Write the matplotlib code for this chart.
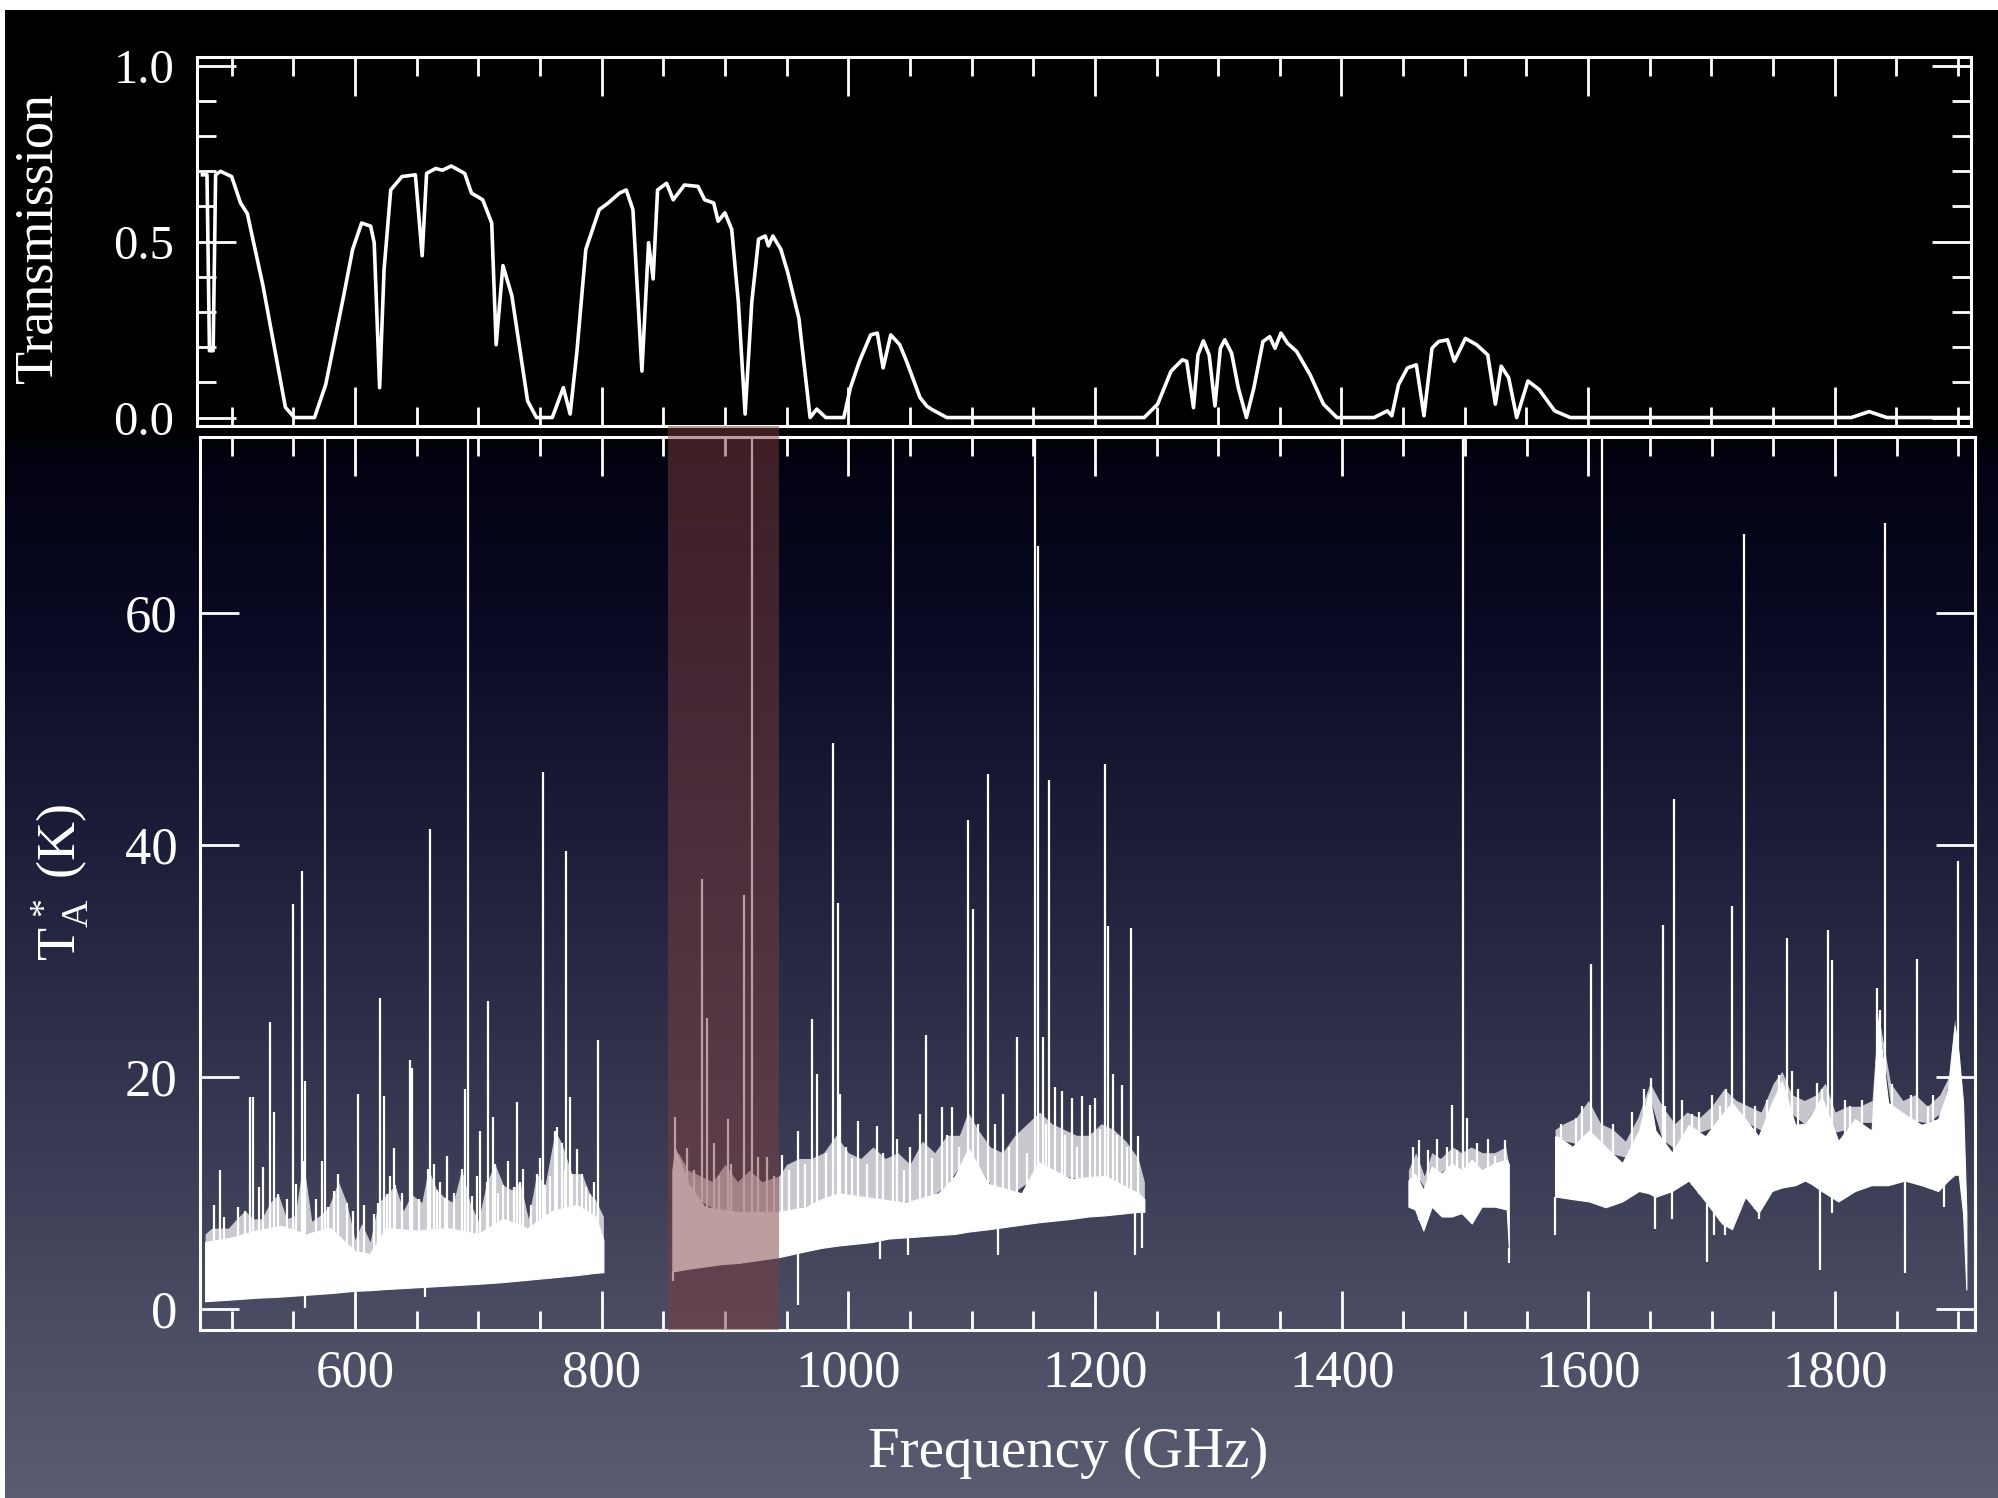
import numpy as np
import matplotlib
matplotlib.use('Agg')
import matplotlib.pyplot as plt
from matplotlib.colors import LinearSegmentedColormap
from matplotlib.patches import Rectangle
from matplotlib.ticker import MultipleLocator

# atmospheric transmission (top panel), GHz / fraction
trans_freq = [476.3, 480, 482, 485, 487, 490.9, 500, 507.2, 512.7, 525.4, 543.6, 550.9, 567.2,
              576.3, 590.9, 598.1, 605.4, 612.7, 615.6, 620, 623.6, 629, 638.1, 649, 654.5,
              658.1, 665.4, 670.9, 678.1, 689, 694.5, 703.6, 710.9, 714.5, 720, 727.2, 740,
              747.2, 760, 769, 774.5, 780, 787.2, 798.1, 805.4, 814.5, 820, 825.4, 832.7,
              838.1, 841.8, 845.4, 852.7, 858.1, 867.2, 878.2, 883.6, 890.9, 894.5, 900,
              905.5, 910.9, 916.4, 921.8, 927.3, 932.7, 935.3, 938.9, 945.4, 950.9, 960,
              969.1, 974.5, 981.8, 996.4, 1001.8, 1009.1, 1018.2, 1023.6, 1028.3, 1034.5,
              1041.8, 1047.3, 1058.2, 1063.6, 1067.3, 1080, 1240, 1250.9, 1261.8, 1270.9,
              1274.5, 1280, 1283.6, 1288, 1292.7, 1297.4, 1301.8, 1305.4, 1310.9, 1316.3,
              1322.9, 1329, 1336.3, 1341.8, 1346.1, 1350.9, 1356.3, 1363.6, 1374.5, 1385.4,
              1396.3, 1426.4, 1437.2, 1440.8, 1446.3, 1453.5, 1460.7, 1466.9, 1473.4, 1478.8,
              1486, 1491.5, 1500.5, 1509.6, 1518.6, 1524.8, 1529.5, 1535.6, 1542.1, 1551.2,
              1560.2, 1572.9, 1585.5, 1813.4, 1827.9, 1842.3, 1911]
trans_val = [0.69, 0.69, 0.19, 0.19, 0.69, 0.70, 0.685, 0.61, 0.58, 0.375, 0.029, 0.0, 0.0,
             0.094, 0.347, 0.478, 0.553, 0.544, 0.497, 0.085, 0.42, 0.647, 0.685, 0.69, 0.46,
             0.694, 0.708, 0.703, 0.715, 0.694, 0.638, 0.619, 0.553, 0.207, 0.432, 0.347, 0.047,
             0.0, 0.0, 0.085, 0.01, 0.188, 0.478, 0.591, 0.61, 0.638, 0.647, 0.591, 0.132,
             0.497, 0.394, 0.647, 0.666, 0.619, 0.661, 0.657, 0.619, 0.61, 0.558, 0.582,
             0.535, 0.328, 0.01, 0.328, 0.507, 0.516, 0.488, 0.516, 0.478, 0.413, 0.282,
             0.0, 0.024, 0.0, 0.0, 0.085, 0.16, 0.235, 0.24, 0.141, 0.235,
             0.207, 0.16, 0.057, 0.033, 0.024, 0.0, 0.0, 0.038, 0.132, 0.164,
             0.16, 0.028, 0.178, 0.218, 0.178, 0.033, 0.197, 0.221, 0.183, 0.085,
             0.0, 0.085, 0.216, 0.23, 0.197, 0.24, 0.211, 0.188, 0.122, 0.038,
             0.0, 0.0, 0.019, 0.005, 0.094, 0.141, 0.15, 0.005, 0.197, 0.216,
             0.221, 0.16, 0.225, 0.207, 0.178, 0.038, 0.146, 0.113, 0.0, 0.104,
             0.08, 0.019, 0.0, 0.0, 0.017, 0.0, 0.0]

# spectrum (bottom panel), per band:
# floor / top of the solid part, top of the dense grass, single lines, dips
b1_freq = [478.4, 500, 520, 540, 560, 580, 600, 612, 625, 650, 675, 700, 720, 740, 760, 780, 795, 801.4]
b1_low = [0.7, 0.85, 1.0, 1.1, 1.25, 1.4, 1.6, 1.65, 1.75, 1.9, 2.05, 2.2, 2.35, 2.55, 2.75, 2.95, 3.15, 3.2]
b1_top = [5.8, 6.2, 6.8, 7.2, 6.5, 7.0, 5.0, 4.8, 7.0, 6.8, 7.0, 6.5, 7.8, 7.0, 8.5, 9.0, 8.0, 6.0]
b1_env_f = [478.4, 483.8, 497.3, 504.1, 510.8, 517.6, 524.3, 531.1, 537.8, 544.6, 551.4, 558.1,
            564.9, 571.6, 578.4, 586.5, 593.2, 600, 605.4, 612.2, 618.9, 625.7, 632.4, 639.2,
            645.9, 654.1, 659.5, 666.2, 673, 679.7, 686.5, 693.2, 700, 706.8, 713.5, 720.3,
            727, 733.8, 740.5, 747.3, 754.1, 762.2, 767.6, 775.7, 783.8, 790.5, 794.6, 801.4]
b1_env = [6.5, 7.0, 7.0, 7.8, 8.5, 7.8, 7.8, 9.2, 9.9, 7.8, 8.1, 12.8,
          7.6, 8.1, 8.8, 11.0, 9.2, 6.0, 7.4, 5.8, 9.2, 9.9, 10.7, 8.5,
          9.9, 9.2, 12.1, 10.3, 9.6, 9.2, 12.1, 9.2, 7.6, 11.0, 12.5, 10.7,
          10.3, 11.0, 7.8, 11.7, 10.7, 15.4, 14.3, 11.7, 11.7, 9.9, 9.5, 8.0]
b1_line_f = [490.5, 514.9, 517.6, 525.7, 531.1, 534.3, 550.0, 556.8, 559.5, 573.0, 575.7, 586.5,
             602.2, 620.3, 623.8, 631.6, 644.6, 646.5, 660.8, 674.3, 689.2, 691.4, 701.4, 708.1,
             712.2, 731.1, 736.5, 752.2, 763.5, 771.1, 774.3, 797.3,
             486, 494, 505, 510.8, 522, 537.8, 545, 552, 558.1, 568, 578.4, 583, 593.2, 598, 607,
             615, 618.9, 625.7, 628, 632.4, 638, 645.9, 652, 659.5, 664, 666.2, 669, 673, 680,
             686.5, 695, 699, 706.8, 713.5, 716, 720.3, 724, 729, 733.8, 743, 747.3, 750, 754.1,
             758, 762.2, 767.6, 770, 775.7, 780, 783.8, 787, 790.5, 794]
b1_line_h = [12.0, 18.3, 18.3, 12.3, 24.8, 17.0, 34.9, 37.8, 19.7, 12.8, 80, 11.7,
             18.6, 26.8, 18.4, 13.9, 21.5, 20.8, 41.4, 13.2, 19.0, 80, 15.4, 26.6,
             16.6, 17.9, 12.1, 46.3, 15.7, 39.5, 18.3, 23.2,
             9.0, 8.0, 8.8, 8.5, 10.5, 9.9, 9.5, 10.8, 12.8, 9.5, 8.8, 10.2, 9.2, 8.5, 9.0,
             8.2, 9.2, 9.9, 11.5, 10.7, 10.0, 9.9, 9.5, 12.1, 12.5, 10.3, 11.0, 9.6, 10.0,
             12.1, 9.8, 11.5, 11.0, 12.5, 10.0, 10.7, 12.8, 10.5, 11.0, 9.0, 11.7, 13.0, 10.7,
             11.5, 15.4, 14.3, 12.0, 11.7, 13.8, 11.7, 10.5, 9.9, 11.0]
b1_dip_f = [559.5, 656.8]
b1_dip_v = [0.1, 1.1]

b2_freq = [857.3, 859.5, 870.3, 883.8, 897.3, 910.8, 943.8, 964.9, 978.4, 991.9, 1018.9, 1032.4,
           1045.9, 1073, 1086.5, 1097.3, 1113.5, 1140.5, 1154, 1181, 1194.6, 1208.1, 1235.1, 1240]
b2_low = [3.3, 3.3, 3.5, 3.7, 3.9, 4.0, 4.5, 5.0, 5.3, 5.5, 5.8, 6.1,
          6.2, 6.4, 6.5, 6.7, 6.9, 7.3, 7.5, 7.8, 8.0, 8.1, 8.4, 8.4]
b2_top = [12.0, 13.9, 10.8, 8.8, 8.6, 8.4, 8.4, 8.8, 9.5, 10.0, 9.6, 9.4,
          9.2, 10.0, 11.5, 13.9, 10.8, 10.0, 12.7, 11.2, 11.4, 11.5, 10.0, 9.5]
b2_env_f = [857.3, 862, 870, 880, 890, 900, 910, 920, 930, 943.8, 950, 960, 970, 980, 990,
            1000, 1010, 1020, 1030, 1040, 1050, 1060, 1070, 1080, 1090, 1097, 1105, 1115,
            1125, 1135, 1145, 1155, 1165, 1175, 1185, 1195, 1205, 1215, 1225, 1235, 1240]
b2_env = [12.0, 13.5, 12.0, 11.5, 11.0, 12.5, 11.0, 12.0, 11.0, 11.5, 12.5, 13.0, 13.0, 13.5, 15.0,
          13.5, 13.0, 14.0, 13.0, 13.5, 12.5, 14.5, 13.5, 15.0, 15.0, 17.0, 15.5, 14.0,
          13.5, 15.0, 16.0, 17.0, 16.0, 15.5, 15.0, 15.0, 16.0, 15.5, 14.5, 13.0, 11.0]
b2_line_f = [859.5, 868.9, 881.1, 885.1, 891.4, 902.7, 915.7, 922.2, 927, 933.8, 945.9, 959.5,
             970.3, 974.3, 987.8, 991.4, 993.2, 1008.1, 1023, 1036.5, 1039.2, 1058.1, 1062.7,
             1075.7, 1083.8, 1096.8, 1101.4, 1113, 1118.9, 1125.7, 1136.5, 1151.4, 1153.6,
             1158.1, 1163, 1167.6, 1173, 1181.1, 1189.2, 1195.9, 1200, 1208.1, 1210.8, 1214.9,
             1221.6, 1229.2, 1235.1,
             875, 895, 905, 940, 952, 965, 982, 998, 1003, 1015, 1028, 1045, 1050, 1068, 1080,
             1090, 1105, 1130, 1145, 1160, 1176, 1185, 1204, 1218, 1226]
b2_line_h = [16.6, 13.9, 37.1, 25.1, 14.3, 16.4, 35.7, 80, 13.1, 13.1, 13.3, 15.4,
             25.0, 20.3, 48.8, 35.0, 18.6, 16.2, 15.8, 80, 14.7, 16.8, 23.6,
             17.4, 17.4, 42.2, 34.5, 46.1, 16.0, 18.6, 23.5, 80, 65.8,
             23.5, 45.6, 19.2, 18.8, 18.2, 18.4, 17.6, 18.2, 47.0, 33.0, 20.3,
             19.3, 32.9, 14.9,
             12.0, 11.5, 12.5, 11.5, 12.0, 12.5, 13.5, 14.0, 13.0, 12.5, 13.5, 12.0, 14.0, 13.0, 15.0,
             14.0, 16.0, 14.0, 13.5, 16.0, 15.0, 14.0, 15.5, 15.0, 14.0]
b2_dip_f = [858.1, 959.5, 1025.7, 1048.6, 1121.6, 1232.4, 1237.8]
b2_dip_v = [2.4, 0.4, 4.3, 4.7, 4.7, 4.7, 5.3]

b3_freq = [1454.1, 1459.5, 1466.2, 1473, 1481.1, 1489.2, 1497.3, 1505.4, 1513.5, 1524.3, 1533.8, 1535.5]
b3_low = [8.85, 8.6, 6.8, 8.85, 8.0, 8.0, 8.3, 7.4, 8.85, 8.85, 8.6, 5.3]
b3_top = [11.1, 11.7, 10.3, 12.3, 11.7, 12.6, 12.0, 12.9, 12.0, 12.6, 12.9, 12.5]
b3_env_f = [1454.1, 1460, 1467, 1473, 1480, 1490, 1497, 1505, 1514, 1524, 1533, 1535.5]
b3_env = [12.0, 13.5, 11.5, 13.5, 13.0, 14.0, 13.5, 14.0, 13.5, 13.5, 14.0, 12.5]
b3_line_f = [1458.1, 1462.7, 1470.3, 1477, 1485.1, 1489.7, 1493.2, 1498.6, 1501.4, 1509.5, 1518.4, 1524.3, 1532.4]
b3_line_h = [14.0, 14.6, 13.7, 14.7, 14.0, 17.6, 13.7, 80, 16.5, 14.3, 14.7, 13.2, 14.6]
b3_dip_f = [1535.5]
b3_dip_v = [4.0]

b4_freq = [1573, 1574.9, 1587.1, 1600.5, 1614, 1627.5, 1641, 1649.1, 1654.4, 1667.9, 1681.4, 1694.9,
           1708.4, 1716.4, 1727.2, 1738, 1748.8, 1756.9, 1767.7, 1775.7, 1781.1, 1789.2, 1802.7,
           1816.2, 1829.6, 1835, 1843.1, 1856.6, 1870.1, 1883.6, 1891.6, 1897, 1900.3, 1903.8, 1906.5]
b4_low = [9.7, 9.7, 9.5, 9.3, 8.8, 9.3, 10.2, 10.0, 9.7, 10.2, 11.1, 9.3,
          7.4, 6.9, 9.7, 8.3, 10.2, 10.5, 10.7, 11.1, 10.8, 10.2, 9.3,
          10.2, 10.7, 10.7, 10.7, 11.1, 10.7, 10.2, 11.1, 11.6, 11.6, 8.3, 1.7]
b4_top = [14.9, 14.9, 14.0, 15.4, 14.0, 12.6, 15.4, 18.7, 15.4, 13.5, 15.9, 14.9,
          16.8, 17.8, 16.4, 14.9, 17.8, 19.7, 15.9, 16.0, 16.8, 18.3, 14.5,
          16.4, 15.4, 24.9, 17.8, 16.8, 15.9, 16.4, 19.0, 24.4, 22.0, 17.8, 8.3]
b4_env_f = [1573, 1580, 1590, 1600, 1610, 1620, 1630, 1640, 1650, 1660, 1670, 1680, 1690, 1700,
            1710, 1720, 1730, 1740, 1750, 1757, 1765, 1775, 1785, 1792, 1800, 1810, 1820, 1830,
            1835, 1845, 1855, 1865, 1875, 1885, 1892, 1897, 1903, 1906.5]
b4_env = [15.5, 16.0, 16.5, 18.0, 16.0, 15.5, 14.5, 16.5, 19.5, 17.5, 16.0, 17.0, 16.5, 17.5,
          19.0, 18.0, 17.5, 17.0, 19.5, 20.5, 18.5, 18.0, 18.5, 19.5, 17.0, 17.5, 17.5, 18.0,
          25.5, 19.5, 18.0, 18.5, 17.5, 18.5, 20.0, 25.0, 19.0, 9.0]
b4_line_f = [1601.9, 1611.3, 1650.4, 1660.4, 1669.3, 1684.1, 1707, 1716.4, 1725.9, 1754.2, 1760.9,
             1789.2, 1794.1, 1797.3, 1833.7, 1836.4, 1840.4, 1845.8, 1866.8, 1879.5, 1899.7,
             1578, 1590, 1595, 1620, 1635, 1645, 1662, 1676, 1690, 1700, 1712, 1735, 1745, 1765,
             1770, 1785, 1808, 1812, 1822, 1850, 1862, 1875, 1888, 1893]
b4_line_h = [29.8, 80, 19.9, 33.1, 44.0, 16.8, 17.5, 34.8, 66.8, 20.2, 32.0,
             19.0, 32.7, 30.1, 27.7, 25.8, 67.8, 19.4, 30.2, 18.5, 38.6,
             16.0, 16.5, 17.5, 16.0, 17.0, 19.0, 17.5, 18.0, 17.0, 18.5, 19.0, 17.5, 18.0, 20.5,
             19.0, 19.5, 18.0, 17.5, 18.0, 17.0, 18.5, 17.5, 17.0, 19.5]
b4_dip_f = [1573, 1654.4, 1667.9, 1696.2, 1701.6, 1711.1, 1738, 1787.9, 1797.3, 1856.6, 1888.4]
b4_dip_v = [6.4, 6.9, 7.8, 4.1, 6.4, 6.4, 7.8, 3.4, 8.3, 3.1, 8.8]

# highlighted frequency window
band_lo, band_hi = 854, 943.5

W, H = 1999, 1498


def style_axes(ax):
    for sp in ax.spines.values():
        sp.set_color('white')
        sp.set_linewidth(2.2)
    ax.set_facecolor('none')
    ax.tick_params(which='both', direction='in', colors='white', top=True, right=True, width=2)
    ax.tick_params(which='major', length=28)
    ax.tick_params(which='minor', length=14)


def draw_band(ax, freq, low, top, env_f, env, line_f, line_h, dip_f, dip_v):
    # dense forest of weak lines, drawn as a mostly opaque layer
    ax.fill_between(env_f, np.interp(env_f, freq, top), env, color='white', alpha=0.72,
                    lw=0, zorder=2)
    ax.fill_between(freq, low, top, color='white', lw=0.8, zorder=3)
    base = np.interp(line_f, freq, low)
    ax.vlines(line_f, base, line_h, color='white', lw=1.6, zorder=3)
    dbase = np.interp(dip_f, freq, low)
    ax.vlines(dip_f, dip_v, dbase, color='white', lw=1.6, zorder=3)


def main():
    plt.rcParams['font.family'] = ['Liberation Serif', 'DejaVu Serif']
    plt.rcParams['mathtext.fontset'] = 'custom'
    plt.rcParams['mathtext.rm'] = 'Liberation Serif'
    plt.rcParams['mathtext.it'] = 'Liberation Serif:italic'

    fig = plt.figure(figsize=(W / 100, H / 100), dpi=100, facecolor='white')

    # gradient backdrop: black behind the top panel, navy to slate below
    bg = fig.add_axes([5 / W, 0, 1 - 5 / W, 1 - 10 / H], zorder=-10)
    cmap = LinearSegmentedColormap.from_list('bg', [
        (0.0, '#000000'), (0.28, '#000000'), (0.30, '#020211'), (0.42, '#0a0b25'),
        (0.6, '#22243f'), (0.77, '#3a3c55'), (0.94, '#52556a'), (1.0, '#5a5d71')])
    bg.imshow(np.linspace(0, 1, 800).reshape(-1, 1), aspect='auto', cmap=cmap,
              extent=[0, 1, 0, 1], origin='upper')
    bg.axis('off')

    # top panel
    ax1 = fig.add_axes([196.5 / W, 1 - 426 / H, (1971 - 196.5) / W, (426 - 57.3) / H])
    style_axes(ax1)
    ax1.plot(trans_freq, trans_val, color='white', lw=2.6, solid_joinstyle='round', zorder=3)
    ax1.set_xlim(471.5, 1910.5)
    ax1.set_ylim(-0.024, 1.024)
    ax1.xaxis.set_major_locator(MultipleLocator(200))
    ax1.xaxis.set_minor_locator(MultipleLocator(50))
    ax1.yaxis.set_major_locator(MultipleLocator(0.5))
    ax1.yaxis.set_minor_locator(MultipleLocator(0.1))
    ax1.tick_params(axis='x', labelbottom=False)
    ax1.tick_params(axis='y', labelsize=35, pad=16)

    # bottom panel
    ax2 = fig.add_axes([200 / W, 1 - 1330 / H, 1775 / W, (1330 - 436.7) / H])
    style_axes(ax2)
    draw_band(ax2, b1_freq, b1_low, b1_top, b1_env_f, b1_env, b1_line_f, b1_line_h, b1_dip_f, b1_dip_v)
    draw_band(ax2, b2_freq, b2_low, b2_top, b2_env_f, b2_env, b2_line_f, b2_line_h, b2_dip_f, b2_dip_v)
    draw_band(ax2, b3_freq, b3_low, b3_top, b3_env_f, b3_env, b3_line_f, b3_line_h, b3_dip_f, b3_dip_v)
    draw_band(ax2, b4_freq, b4_low, b4_top, b4_env_f, b4_env, b4_line_f, b4_line_h, b4_dip_f, b4_dip_v)
    ax2.set_xlim(474.3, 1913.5)
    ax2.set_ylim(-1.78, 75.2)
    ax2.xaxis.set_major_locator(MultipleLocator(200))
    ax2.xaxis.set_minor_locator(MultipleLocator(50))
    ax2.yaxis.set_major_locator(MultipleLocator(20))
    ax2.tick_params(axis='x', labelsize=38, pad=14)
    ax2.tick_params(axis='y', labelsize=38, pad=16)

    # shaded window reaching up into the gap under the top panel
    rect = Rectangle((band_lo, -1.78), band_hi - band_lo, 75.2 + 1.78 + 0.95,
                     facecolor=(0.49, 0.245, 0.245), alpha=0.5, lw=0,
                     clip_on=False, zorder=5)
    ax2.add_patch(rect)

    fig.text(38 / W, 1 - 238 / H, 'Transmission', color='white', fontsize=39,
             rotation=90, ha='center', va='center')
    fig.text(60 / W, 1 - 882 / H, r'$\mathrm{T_A^{\,*}}$ (K)', color='white', fontsize=39,
             rotation=90, ha='center', va='center')
    fig.text(1068 / W, 1 - 1453 / H, 'Frequency (GHz)', color='white', fontsize=41,
             ha='center', va='center')

    fig.savefig('out.png', dpi=100, facecolor=fig.get_facecolor())


if __name__ == '__main__':
    main()
